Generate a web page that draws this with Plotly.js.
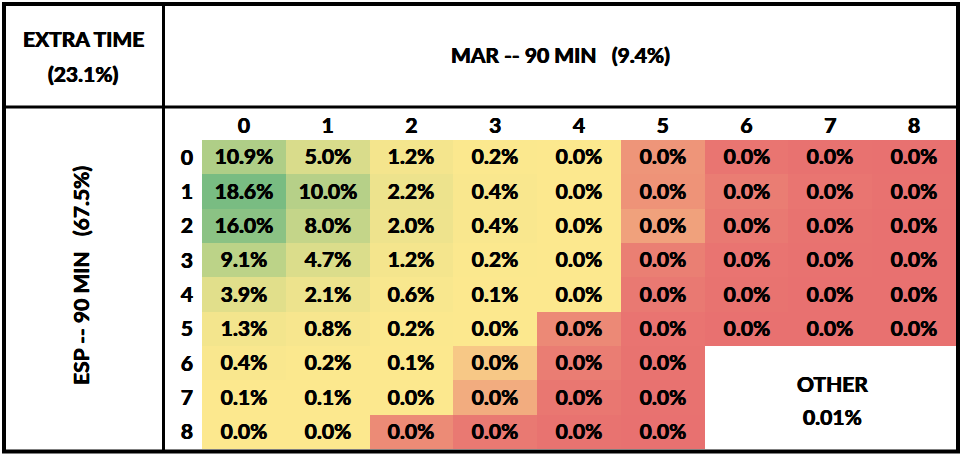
<!DOCTYPE html>
<html><head><meta charset="utf-8">
<script src="https://cdn.plot.ly/plotly-3.0.1.min.js"></script>
<style>html,body{margin:0;padding:0;background:#fff}</style>
</head><body><div id="chart" style="width:962px;height:456px"></div>
<script>
// ---- data ----
const marGoals = [0, 1, 2, 3, 4, 5, 6, 7, 8];
const espGoals = [0, 1, 2, 3, 4, 5, 6, 7, 8];
// probability (%) per scoreline, rows = ESP goals, columns = MAR goals
// (values shown as 0.0% are small, estimated from the cell shading)
const esp0 = [10.9, 5.0, 1.2, 0.2, 0.045, 0.009, 0.001, 0.0003, 0.0001];
const esp1 = [18.6, 10.0, 2.2, 0.4, 0.045, 0.0085, 0.003, 0.001, 0.0002];
const esp2 = [16.0, 8.0, 2.0, 0.4, 0.04, 0.012, 0.002, 0.0005, 0.0001];
const esp3 = [9.1, 4.7, 1.2, 0.2, 0.035, 0.0035, 0.0008, 0.0002, 0.00005];
const esp4 = [3.9, 2.1, 0.6, 0.1, 0.03, 0.002, 0.0004, 0.0001, 0.00002];
const esp5 = [1.3, 0.8, 0.2, 0.03, 0.006, 0.0008, 0.0001, 0.00002, 0.000005];
const esp6 = [0.4, 0.2, 0.1, 0.022, 0.003, 0.0004, null, null, null];
const esp7 = [0.1, 0.1, 0.032, 0.015, 0.0015, 0.0002, null, null, null];
const esp8 = [0.035, 0.03, 0.0065, 0.002, 0.0004, 0.00005, null, null, null];
const extraTimeText = ['EXTRA TIME', '(23.1%)'];
const marTitle = 'MAR -- 90 MIN\u00A0\u00A0\u00A0(9.4%)';
const espTitle = 'ESP -- 90 MIN\u00A0\u00A0\u00A0(67.5%)';
const otherText = ['OTHER', '0.01%'];

// ---- build ----
const z = [esp0, esp1, esp2, esp3, esp4, esp5, esp6, esp7, esp8];
const text = z.map(r => r.map(v => v == null ? '' : v.toFixed(1) + '%'));
const flat = z.flat().filter(v => v != null).sort((a, b) => a - b);
const zmin = flat[0], zmax = flat[flat.length - 1];
const n = flat.length;
const med = n % 2 ? flat[(n - 1) / 2] : (flat[n / 2 - 1] + flat[n / 2]) / 2;
const midPos = (med - zmin) / (zmax - zmin);

const W = 962, H = 456;
const px = x => x / W, py = y => 1 - y / H;
const FONT = 'Lato, "Open Sans", sans-serif';
const bold = (size) => ({family: FONT, size: size, color: '#000', weight: 'bold',
  shadow: '0.4px 0 0 #000, -0.4px 0 0 #000'});

const trace = {
  type: 'heatmap',
  x: marGoals, y: espGoals, z: z,
  text: text, texttemplate: '%{text}',
  textfont: bold(21),
  zmin: zmin, zmax: zmax,
  colorscale: [[0, '#E87170'], [midPos, '#FCE88E'], [1, '#79BC82']],
  showscale: false, hoverinfo: 'skip', xgap: 0, ygap: 0
};

const line = (x0, y0, x1, y1, w) => ({type: 'line', xref: 'paper', yref: 'paper',
  x0: px(x0), y0: py(y0), x1: px(x1), y1: py(y1), line: {color: '#000', width: w}});
const ann = (t, x, y, angle) => ({text: t, xref: 'paper', yref: 'paper', x: px(x), y: py(y),
  xanchor: 'center', yanchor: 'middle', showarrow: false, font: bold(21), textangle: angle || 0});

const layout = {
  width: W, height: H, margin: {l: 0, r: 0, t: 0, b: 0},
  paper_bgcolor: '#fff', plot_bgcolor: '#fff',
  xaxis: {domain: [px(202), px(956)], range: [-0.5, 8.5], side: 'top', tickvals: marGoals,
    showgrid: false, zeroline: false, showline: false, ticks: '', tickfont: bold(21), fixedrange: true,
    ticklabelstandoff: 2},
  yaxis: {domain: [py(449), py(140)], range: [8.5, -0.5], tickvals: espGoals,
    showgrid: false, zeroline: false, showline: false, ticks: '', tickfont: bold(21), fixedrange: true,
    ticklabelstandoff: 8},
  shapes: [
    {type: 'rect', xref: 'paper', yref: 'paper', x0: px(4), x1: px(958), y0: py(451.5), y1: py(4),
      line: {color: '#000', width: 4}},
    line(4, 107, 958, 107, 3),
    line(163.5, 4, 163.5, 451.5, 3)
  ],
  annotations: [
    ann(extraTimeText[0], 83, 39),
    ann(extraTimeText[1], 83, 74),
    ann(marTitle, 560, 55),
    ann(espTitle, 80, 276, -90),
    ann(otherText[0], 832, 383),
    ann(otherText[1], 832, 416)
  ]
};

Plotly.newPlot('chart', [trace], layout, {staticPlot: true, displayModeBar: false});
</script></body></html>
